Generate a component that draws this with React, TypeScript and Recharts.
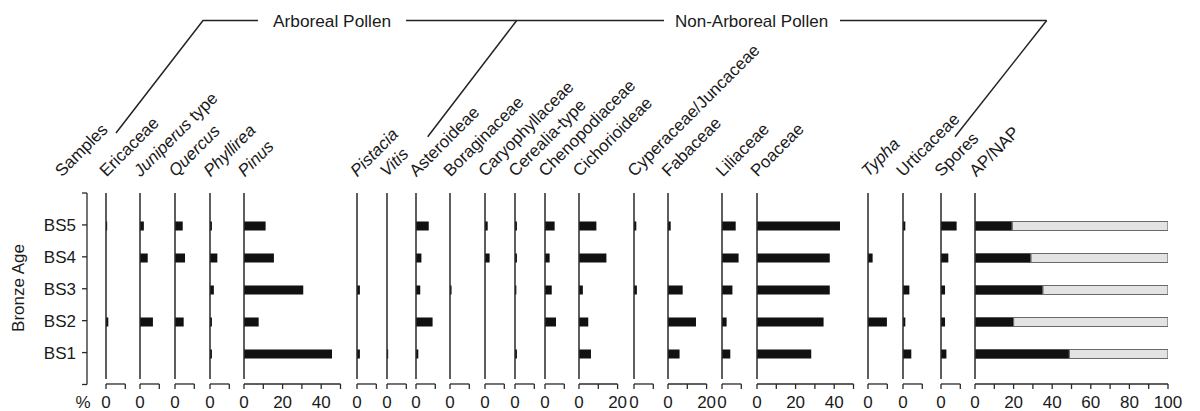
import React from 'react';
import { BarChart, Bar, XAxis, YAxis, ReferenceLine, LineChart } from 'recharts';

// ---------- data ----------
const samples = ['BS5', 'BS4', 'BS3', 'BS2', 'BS1'];

const taxa = [
  'Ericaceae', 'Juniperus type', 'Quercus', 'Phyllirea', 'Pinus', 'Pistacia', 'Vitis',
  'Asteroideae', 'Boraginaceae', 'Caryophyllaceae', 'Cerealia-type', 'Chenopodiaceae',
  'Cichorioideae', 'Cyperaceae/Juncaceae', 'Fabaceae', 'Liliaceae', 'Poaceae', 'Typha',
  'Urticaceae', 'Spores',
];
// italic part / roman part of each label
const italicPart = ['', 'Juniperus', 'Quercus', 'Phyllirea', 'Pinus', 'Pistacia', 'Vitis',
  '', '', '', '', '', '', '', '', '', '', 'Typha', '', ''];

const ericaceae = [0.6, 0, 0, 1.2, 0];
const juniperus = [2, 4, 0, 6.7, 0];
const quercus = [4, 5.2, 0, 4.5, 0];
const phyllirea = [1, 3.8, 2, 1, 1];
const pinus = [11.2, 15.5, 30.7, 7.6, 45.6];
const pistacia = [0, 0, 1.5, 0, 1.5];
const vitis = [0, 0, 0, 0, 0.6];
const asteroideae = [6.6, 2.8, 2.2, 8.6, 1.2];
const boraginaceae = [0, 0, 0.8, 0, 0];
const caryophyllaceae = [1.4, 2.4, 0, 0, 0];
const cerealia = [1, 1, 0.7, 0, 1];
const chenopodiaceae = [5, 2.4, 3.5, 5.7, 0];
const cichorioideae = [9, 14.2, 2, 4.8, 6.2];
const cyperaceae = [1.2, 0, 1.5, 0, 0];
const fabaceae = [1.4, 0, 7.6, 14.5, 6];
const liliaceae = [7.1, 8.6, 5.4, 2.4, 4.3];
const poaceae = [43, 37.7, 37.7, 34.5, 28.1];
const typha = [0, 2.4, 0, 9.8, 0];
const urticaceae = [1.2, 0, 3.3, 1.2, 4.3];
const spores = [8.1, 3.8, 2.1, 2.1, 2.8];
const apValues = [19.3, 29, 35.2, 20, 48.9];
const napValues = [80.7, 71, 64.8, 80, 51.1];

const seriesValues = [
  ericaceae, juniperus, quercus, phyllirea, pinus, pistacia, vitis, asteroideae,
  boraginaceae, caryophyllaceae, cerealia, chenopodiaceae, cichorioideae, cyperaceae,
  fabaceae, liliaceae, poaceae, typha, urticaceae, spores,
];

const ticks10 = [0, 10];
const ticks20 = [0, 10, 20];
const ticks50 = [0, 10, 20, 30, 40, 50];
const ticks100 = [0, 10, 20, 30, 40, 50, 60, 70, 80, 90, 100];
const labelledTicks = [0, 20, 40, 60, 80, 100];
const sampleTicks = [0, 1, 2, 3, 4, 5, 6];

const taxonTicks = [
  ticks10, ticks10, ticks10, ticks10, ticks50, ticks10, ticks10, ticks10, ticks10, ticks10,
  ticks10, ticks10, ticks20, ticks10, ticks20, ticks10, ticks50, ticks10, ticks10, ticks10,
];

// ---------- layout ----------
const zeroX = [106, 140, 175, 210, 244.3, 356.7, 386.5, 415.7, 450, 484.7, 515, 545, 579.3,
  634, 668.3, 722.3, 757, 867.7, 902.7, 941];
const apZero = 975.3;
const PX_PER_PCT = 1.93;
const CH = 411;
const PLOT_TOP = 189;
const PLOT_BOTTOM = 384;
const PADL = 14;
const PADR = 22;
const INK = '#1a1a1a';
const FONT = '"Liberation Sans", Arial, Helvetica, sans-serif';
const lineStyle = { stroke: '#2a2a2a', strokeWidth: 1.3 };

const fmt = (v: number) => (labelledTicks.includes(v) ? String(v) : '');

function Panel({ values, ticks, zero, ap }: { values?: number[]; ticks: number[]; zero: number; ap?: boolean }) {
  const max = ticks[ticks.length - 1];
  const w = max * PX_PER_PCT;
  const rows = samples.map((s, i) => (ap
    ? { sample: s, ap: apValues[i], nap: napValues[i] }
    : { sample: s, v: (values as number[])[i] }));
  return (
    <div style={{ position: 'absolute', left: zero - PADL, top: 0 }}>
      <BarChart
        width={PADL + w + PADR}
        height={CH}
        layout="vertical"
        data={rows}
        margin={{ top: PLOT_TOP, bottom: 0, left: PADL, right: PADR }}
        barSize={9}
      >
        <XAxis xAxisId="top" orientation="top" type="number" domain={[0, max]} ticks={ticks}
          height={0} tick={false} tickSize={5} axisLine={lineStyle} tickLine={lineStyle}
          allowDataOverflow interval={0} />
        <XAxis xAxisId="bottom" orientation="bottom" type="number" domain={[0, max]} ticks={ticks}
          height={CH - PLOT_BOTTOM} tickSize={5} tickMargin={7} tickFormatter={fmt} interval={0}
          tick={{ fill: INK, fontSize: 17, fontFamily: FONT }} axisLine={lineStyle} tickLine={lineStyle}
          allowDataOverflow />
        <YAxis type="category" dataKey="sample" hide width={0} padding={{ top: 20.5, bottom: 14.5 }} />
        <ReferenceLine x={0} xAxisId="bottom" stroke="#2a2a2a" strokeWidth={1.5} strokeDasharray="0 5 186 4" />
        {ap ? (
          <>
            <Bar dataKey="ap" stackId="s" xAxisId="bottom" fill="#111" stroke="#555" strokeWidth={1} isAnimationActive={false} />
            <Bar dataKey="nap" stackId="s" xAxisId="bottom" fill="#e3e3e3" stroke="#6a6a6a" strokeWidth={1.2} isAnimationActive={false} />
          </>
        ) : (
          <Bar dataKey="v" xAxisId="bottom" fill="#111" isAnimationActive={false} />
        )}
      </BarChart>
    </div>
  );
}

function SamplesAxis() {
  const rows = samples.map((s) => ({ sample: s }));
  const yw = 60;
  return (
    <div style={{ position: 'absolute', left: 0, top: 0 }}>
      <LineChart width={100} height={CH} data={rows}
        margin={{ top: 193, bottom: CH - PLOT_BOTTOM - 0.5, left: 87 - yw, right: 5 }}>
        <XAxis hide dataKey="sample" />
        <YAxis type="number" domain={[0, 6]} ticks={sampleTicks} allowDataOverflow interval={0}
          width={yw} tickSize={5} tickMargin={6}
          tickFormatter={(v: number) => (v >= 1 && v <= 5 ? samples[5 - v] : '')}
          tick={{ fill: INK, fontSize: 17, fontFamily: FONT }} axisLine={lineStyle} tickLine={lineStyle} />
      </LineChart>
    </div>
  );
}

function Overlay() {
  const labelY = 177.5;
  const lbl = (x: number, key: string, italic: string, roman: string) => (
    <text key={key} x={x} y={labelY} transform={`rotate(-45 ${x} ${labelY})`} fontSize={17} fill={INK}>
      {italic ? <tspan fontStyle="italic">{italic}</tspan> : null}
      {roman ? <tspan>{roman}</tspan> : null}
    </text>
  );
  return (
    <svg width={1200} height={CH} style={{ position: 'absolute', left: 0, top: 0, pointerEvents: 'none', fontFamily: FONT }}>
      <g fill="none" stroke="#222" strokeWidth={1.5}>
        <polyline points="116,133 203,20.5 258,20.5" />
        <line x1={406} y1={20.5} x2={664} y2={20.5} />
        <line x1={516.7} y1={20.5} x2={427.7} y2={136.7} />
        <line x1={840} y1={20.5} x2={1046.7} y2={20.5} />
        <line x1={1046.7} y1={20.5} x2={955} y2={136.7} />
      </g>
      <text x={273} y={27} fontSize={17.3} fill={INK}>Arboreal Pollen</text>
      <text x={675} y={27} fontSize={17} fill={INK}>Non-Arboreal Pollen</text>
      {lbl(62, 'samples', '', 'Samples')}
      {taxa.map((t, i) => {
        const it = italicPart[i];
        const roman = it ? t.slice(it.length) : t;
        return lbl(zeroX[i] + 0.5, t, it, roman);
      })}
      {lbl(apZero + 1, 'apnap', '', 'AP/NAP')}
      <text x={18} y={288} transform="rotate(-90 18 288)" textAnchor="middle" dominantBaseline="central" fontSize={17} fill={INK}>Bronze Age</text>
      <text x={83} y={408} textAnchor="middle" fontSize={17} fill={INK}>%</text>
    </svg>
  );
}

export default function App() {
  return (
    <div style={{ position: 'absolute', left: 0, top: 0, width: 1200, height: CH, background: '#fff', fontFamily: FONT, overflow: 'hidden' }}>
      <SamplesAxis />
      {seriesValues.map((vals, i) => (
        <Panel key={taxa[i]} values={vals} ticks={taxonTicks[i]} zero={zeroX[i]} />
      ))}
      <Panel ticks={ticks100} zero={apZero} ap />
      <Overlay />
    </div>
  );
}
